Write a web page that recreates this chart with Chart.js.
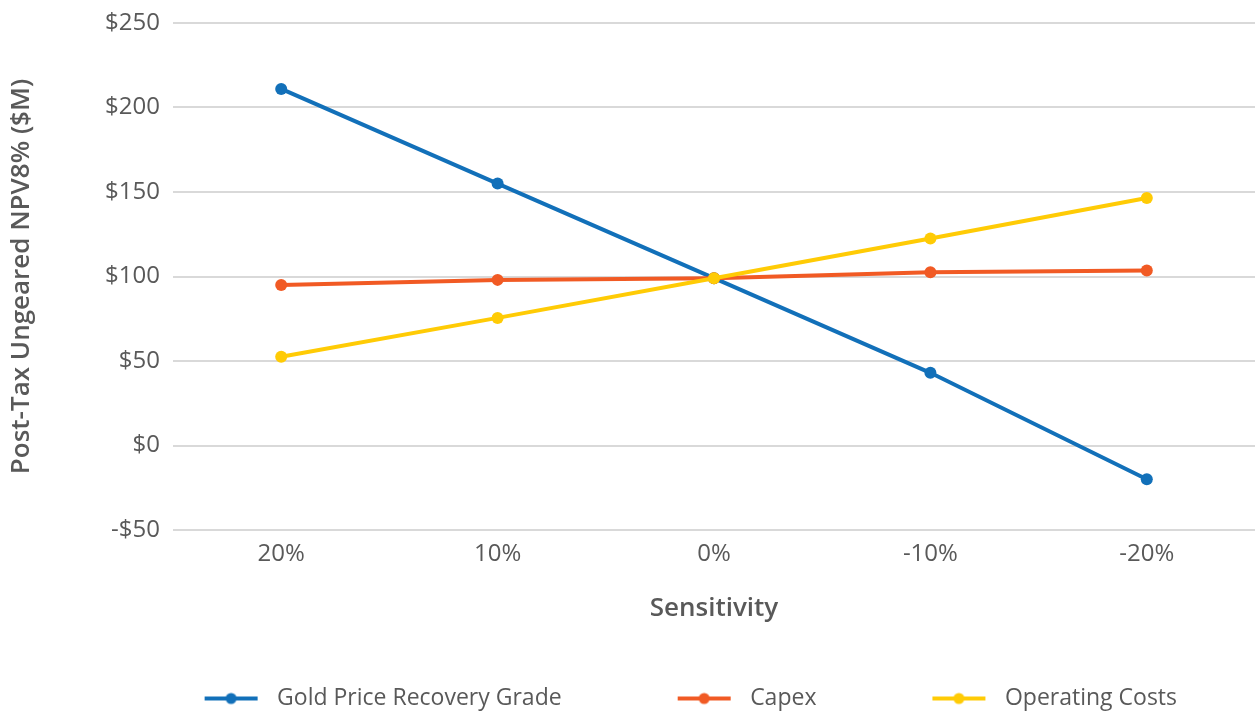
<!DOCTYPE html>
<html>
<head>
<meta charset="utf-8">
<title>NPV Sensitivity</title>
<script src="https://cdn.jsdelivr.net/npm/chart.js@4.4.1/dist/chart.umd.min.js"></script>
<style>
  html, body { margin: 0; padding: 0; background: #ffffff; overflow: hidden; }
  canvas { display: block; }
</style>
</head>
<body>
<canvas id="npvChart" width="1255" height="720"></canvas>
<script>
// Sensitivity cases and post-tax NPV ($M)
const sensitivityLabels = ['20%', '10%', '0%', '-10%', '-20%'];
const goldPriceNpv = [211, 155, 99, 43, -20];
const capexNpv = [95, 98, 99, 102.5, 103.5];
const opexNpv = [52.5, 75.5, 99, 122.5, 146.5];
const yTicks = [-50, 0, 50, 100, 150, 200, 250];

const BLUE = '#1270b9';
const ORANGE = '#f15a24';
const YELLOW = '#ffcb05';
const TEXT = '#595959';
const FONT = '"Open Sans"';

// legend marker: short line with a dot; blank lead-in spaces the items apart
function legendIcon(color) {
  const c = document.createElement('canvas');
  c.width = 99;
  c.height = 14;
  const g = c.getContext('2d');
  g.strokeStyle = color;
  g.lineWidth = 4;
  g.beginPath();
  g.moveTo(38, 7);
  g.lineTo(91, 7);
  g.stroke();
  g.fillStyle = color;
  g.beginPath();
  g.arc(64.5, 7, 5.5, 0, Math.PI * 2);
  g.fill();
  return c;
}

function lineSet(label, data, color, order) {
  return {
    label: label,
    data: data,
    borderColor: color,
    backgroundColor: color,
    borderWidth: 4,
    pointRadius: 6,
    pointHoverRadius: 7,
    pointBackgroundColor: color,
    pointBorderWidth: 0,
    tension: 0,
    fill: false,
    order: order
  };
}

// no extra edge padding from tick labels
function noEdgePadding(scale) {
  scale.paddingLeft = 0;
  scale.paddingRight = 0;
  scale.paddingTop = 0;
  scale.paddingBottom = 0;
}

function initChart() {
  const ctx = document.getElementById('npvChart');
  new Chart(ctx, {
    type: 'line',
    data: {
      labels: sensitivityLabels,
      datasets: [
        lineSet('Gold Price Recovery Grade', goldPriceNpv, BLUE, 3),
        lineSet('Capex', capexNpv, ORANGE, 2),
        lineSet('Operating Costs', opexNpv, YELLOW, 1)
      ]
    },
    options: {
      responsive: false,
      animation: false,
      layout: {
        autoPadding: false,
        padding: { top: 23, left: 0, right: 0, bottom: 0 }
      },
      plugins: {
        legend: {
          position: 'bottom',
          align: 'end',
          labels: {
            usePointStyle: true,
            pointStyleWidth: 99,
            padding: 78,
            color: TEXT,
            font: { family: FONT, size: 23 },
            sort: (a, b) => a.datasetIndex - b.datasetIndex,
            generateLabels: function(chart) {
              const items = Chart.defaults.plugins.legend.labels.generateLabels(chart);
              items.forEach(it => {
                it.pointStyle = legendIcon(chart.data.datasets[it.datasetIndex].borderColor);
              });
              return items;
            }
          }
        },
        tooltip: { enabled: false }
      },
      scales: {
        x: {
          offset: true,
          grid: { display: false, drawTicks: false },
          border: { display: false },
          ticks: {
            color: TEXT,
            padding: 10,
            font: { family: FONT, size: 24 }
          },
          title: {
            display: true,
            text: 'Sensitivity',
            color: TEXT,
            padding: { top: 0, bottom: -15 },
            font: { family: FONT, size: 26, weight: '600' }
          },
          afterFit: scale => {
            scale.height = 79;
            noEdgePadding(scale);
          }
        },
        y: {
          min: yTicks[0],
          max: yTicks[yTicks.length - 1],
          afterBuildTicks: scale => { scale.ticks = yTicks.map(v => ({ value: v })); },
          grid: { color: '#d9d9d9', lineWidth: 2, drawTicks: false },
          border: { display: false },
          ticks: {
            color: TEXT,
            padding: 13,
            font: { family: FONT, size: 24 },
            callback: v => (v < 0 ? '-$' + Math.abs(v) : '$' + v)
          },
          title: {
            display: true,
            text: 'Post-Tax Ungeared NPV8% ($M)',
            color: TEXT,
            padding: { top: 6, bottom: 0 },
            font: { family: FONT, size: 26, weight: '600' }
          },
          afterFit: scale => {
            scale.width = 173;
            noEdgePadding(scale);
          }
        }
      }
    }
  });
}

if (document.readyState === 'loading') {
  document.addEventListener('DOMContentLoaded', initChart);
} else {
  initChart();
}
</script>
</body>
</html>
